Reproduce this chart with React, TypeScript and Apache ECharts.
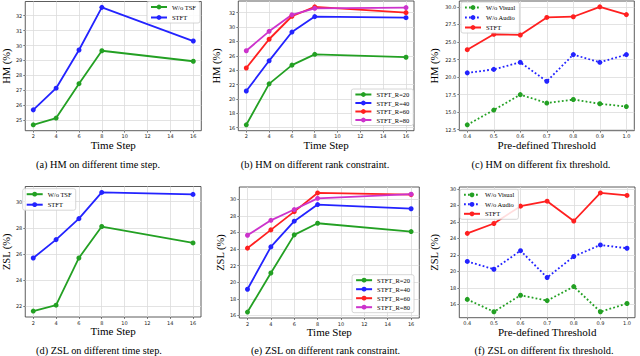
import React, { useEffect, useRef } from "react";
import * as echarts from "echarts";

// ---------- data ----------
const timeSteps = [2, 4, 6, 8, 16];
const thresholds = [0.4, 0.5, 0.6, 0.7, 0.8, 0.9, 1.0];

const timeTickLabels = [2, 4, 6, 8, 10, 12, 14, 16];
const thrTickLabels = [0.4, 0.5, 0.6, 0.7, 0.8, 0.9, 1.0];
const hmTimeYTicks = [25, 26, 27, 28, 29, 30, 31, 32];
const hmRankYTicks = [16, 18, 20, 22, 24, 26, 28, 30, 32];
const hmThrYTicks = [12.5, 15.0, 17.5, 20.0, 22.5, 25.0, 27.5, 30.0];
const zslTimeYTicks = [22, 24, 26, 28, 30];
const zslRankYTicks = [16, 18, 20, 22, 24, 26, 28, 30];
const zslThrYTicks = [16, 18, 20, 22, 24, 26, 28, 30];

// (a) HM vs time step
const hmWoTSF = [24.7, 25.15, 27.45, 29.65, 28.95];
const hmSTFT = [25.7, 27.15, 29.7, 32.55, 30.3];
// (b) HM vs rank constraint
const hmR20 = [16.4, 22.1, 24.7, 26.2, 25.8];
const hmR40 = [21.1, 25.3, 29.3, 31.45, 31.3];
const hmR60 = [24.3, 28.3, 31.5, 32.8, 32.0];
const hmR80 = [26.7, 29.4, 31.7, 32.6, 32.7];
// (c) HM vs threshold
const hmWoVisual = [13.2, 15.3, 17.5, 16.3, 16.8, 16.2, 15.8];
const hmWoAudio = [20.6, 21.1, 22.1, 19.4, 23.2, 22.1, 23.2];
const hmSTFTThr = [23.9, 26.1, 26.0, 28.5, 28.6, 30.0, 28.9];
// (d) ZSL vs time step
const zslWoTSF = [21.65, 22.1, 25.7, 28.1, 26.85];
const zslSTFT = [25.7, 27.1, 28.7, 30.7, 30.55];
// (e) ZSL vs rank constraint
const zslR20 = [16.4, 21.1, 25.7, 27.1, 26.1];
const zslR40 = [19.15, 24.25, 27.35, 29.35, 28.85];
const zslR60 = [24.1, 26.3, 28.5, 30.75, 30.55];
const zslR80 = [25.65, 27.45, 28.75, 30.1, 30.6];
// (f) ZSL vs threshold
const zslWoVisual = [16.6, 15.1, 17.1, 16.45, 18.15, 15.1, 16.1];
const zslWoAudio = [21.2, 20.25, 22.5, 19.25, 21.8, 23.2, 22.8];
const zslSTFTThr = [24.6, 25.8, 27.9, 28.5, 26.1, 29.5, 29.2];

const captions = [
  "(a) HM on different time step.",
  "(b) HM on different rank constraint.",
  "(c) HM on different fix threshold.",
  "(d) ZSL on different time step.",
  "(e) ZSL on different rank constraint.",
  "(f) ZSL on different fix threshold.",
];

// ---------- styling ----------
const GREEN = "#23a023";
const BLUE = "#2323ff";
const RED = "#ff2020";
const MAGENTA = "#cc33cc";
const SERIF = "'Liberation Serif', 'Times New Roman', serif";
const SANS = "'DejaVu Sans', sans-serif";

type SeriesDef = { name: string; ys: number[]; color: string; dotted?: boolean };
type PanelDef = {
  l: number; t: number; r: number; b: number;
  xs: number[]; xTicks: number[]; yTicks: number[];
  xName: string; yName: string; yGap: number; yFmt: (v: number) => string;
  series: SeriesDef[];
  legend: Record<string, number>;
  legendGap: number;
  capX: number; capY: number;
};

const panels: PanelDef[] = [
  {
    l: 20.7, t: 1.5, r: 201.3, b: 130.7, xs: timeSteps, xTicks: timeTickLabels, yTicks: hmTimeYTicks,
    xName: "Time Step", yName: "HM (%)", yGap: 9, yFmt: (v) => String(v),
    series: [
      { name: "W/o TSF", ys: hmWoTSF, color: GREEN },
      { name: "STFT", ys: hmSTFT, color: BLUE },
    ],
    legend: { right: 440, top: 1.5 }, legendGap: 3.5, capX: 98, capY: 164,
  },
  {
    l: 238.3, t: 1, r: 414, b: 130.7, xs: timeSteps, xTicks: timeTickLabels, yTicks: hmRankYTicks,
    xName: "Time Step", yName: "HM (%)", yGap: 16, yFmt: (v) => String(v),
    series: [
      { name: "STFT_R=20", ys: hmR20, color: GREEN },
      { name: "STFT_R=40", ys: hmR40, color: BLUE },
      { name: "STFT_R=60", ys: hmR60, color: RED },
      { name: "STFT_R=80", ys: hmR80, color: MAGENTA },
    ],
    legend: { right: 226.7, top: 89 }, legendGap: 1.5, capX: 315, capY: 164,
  },
  {
    l: 459.3, t: 1, r: 634.3, b: 130.7, xs: thresholds, xTicks: thrTickLabels, yTicks: hmThrYTicks,
    xName: "Pre-defined Threshold", yName: "HM (%)", yGap: 19, yFmt: (v) => v.toFixed(1),
    series: [
      { name: "W/o Visual", ys: hmWoVisual, color: GREEN, dotted: true },
      { name: "W/o Audio", ys: hmWoAudio, color: BLUE, dotted: true },
      { name: "STFT", ys: hmSTFTThr, color: RED },
    ],
    legend: { left: 461, top: 2 }, legendGap: 3, capX: 541, capY: 164,
  },
  {
    l: 20.7, t: 186.5, r: 201, b: 317, xs: timeSteps, xTicks: timeTickLabels, yTicks: zslTimeYTicks,
    xName: "Time Step", yName: "ZSL (%)", yGap: 9, yFmt: (v) => String(v),
    series: [
      { name: "W/o TSF", ys: zslWoTSF, color: GREEN },
      { name: "STFT", ys: zslSTFT, color: BLUE },
    ],
    legend: { left: 22.7, top: 188.7 }, legendGap: 3.5, capX: 99, capY: 350,
  },
  {
    l: 239.3, t: 187, r: 419.3, b: 318, xs: timeSteps, xTicks: timeTickLabels, yTicks: zslRankYTicks,
    xName: "Time Step", yName: "ZSL (%)", yGap: 12, yFmt: (v) => String(v),
    series: [
      { name: "STFT_R=20", ys: zslR20, color: GREEN },
      { name: "STFT_R=40", ys: zslR40, color: BLUE },
      { name: "STFT_R=60", ys: zslR60, color: RED },
      { name: "STFT_R=80", ys: zslR80, color: MAGENTA },
    ],
    legend: { right: 226, top: 274.7 }, legendGap: 2, capX: 325.5, capY: 350,
  },
  {
    l: 459.3, t: 187, r: 635, b: 317.7, xs: thresholds, xTicks: thrTickLabels, yTicks: zslThrYTicks,
    xName: "Pre-defined Threshold", yName: "ZSL (%)", yGap: 19, yFmt: (v) => String(v),
    series: [
      { name: "W/o Visual", ys: zslWoVisual, color: GREEN, dotted: true },
      { name: "W/o Audio", ys: zslWoAudio, color: BLUE, dotted: true },
      { name: "STFT", ys: zslSTFTThr, color: RED },
    ],
    legend: { left: 460, top: 189.3 }, legendGap: 2.5, capX: 544, capY: 350,
  },
];

function padded(vals: number[]): [number, number] {
  const lo = Math.min(...vals);
  const hi = Math.max(...vals);
  const m = (hi - lo) * 0.05;
  return [lo - m, hi + m];
}

function buildOption() {
  const grid: any[] = [];
  const xAxis: any[] = [];
  const yAxis: any[] = [];
  const series: any[] = [];
  const legend: any[] = [];
  const graphic: any[] = [];

  panels.forEach((p, i) => {
    grid.push({
      left: p.l, top: p.t, width: p.r - p.l, height: p.b - p.t,
      show: true, borderColor: "#333", borderWidth: 0.8, backgroundColor: "transparent",
      containLabel: false,
    });
    const [xmin, xmax] = padded(p.xs);
    const [ymin, ymax] = padded(p.series.flatMap((s) => s.ys));
    xAxis.push({
      type: "value", gridIndex: i, min: xmin, max: xmax,
      axisLine: { show: false },
      axisTick: { show: true, length: 2, lineStyle: { color: "#333", width: 0.6 }, customValues: p.xTicks },
      axisLabel: {
        customValues: p.xTicks, fontSize: 5, margin: 3, color: "#222", fontFamily: SANS,
        formatter: (v: number) => (p.xs === thresholds ? v.toFixed(1) : String(v)),
      },
      splitLine: { show: true, lineStyle: { color: "#dcdcdc", width: 0.8 } },
      name: p.xName, nameLocation: "middle", nameGap: 7.5,
      nameTextStyle: { fontFamily: SERIF, fontSize: 11, color: "#000", fontWeight: "normal" },
    });
    yAxis.push({
      type: "value", gridIndex: i, min: ymin, max: ymax,
      axisLine: { show: false },
      axisTick: { show: true, length: 2, lineStyle: { color: "#333", width: 0.6 }, customValues: p.yTicks },
      axisLabel: {
        customValues: p.yTicks, fontSize: 5, margin: 3, color: "#222", fontFamily: SANS,
        formatter: (v: number) => p.yFmt(v),
      },
      splitLine: { show: true, lineStyle: { color: "#dcdcdc", width: 0.8 } },
      name: p.yName, nameLocation: "middle", nameGap: p.yGap,
      nameTextStyle: { fontFamily: SERIF, fontSize: 10.5, color: "#000", fontWeight: "normal" },
    });
    const names: string[] = [];
    p.series.forEach((s) => {
      const nm = `${i}::${s.name}`;
      names.push(nm);
      series.push({
        type: "line", name: nm, xAxisIndex: i, yAxisIndex: i,
        data: p.xs.map((x, k) => [x, s.ys[k]]),
        symbol: "circle", symbolSize: 5, showSymbol: true,
        itemStyle: { color: s.color },
        lineStyle: { color: s.color, width: 1.8, type: s.dotted ? [1.8, 2.2] : "solid" },
        emphasis: { disabled: true }, silent: true, clip: false,
      });
    });
    legend.push({
      ...p.legend,
      orient: "vertical", data: names, selectedMode: false,
      itemWidth: 16, itemHeight: 6, itemGap: p.legendGap,
      padding: [2, 4, 2, 3],
      backgroundColor: "rgba(255,255,255,0.85)", borderColor: "#cccccc", borderWidth: 0.8, borderRadius: 2,
      textStyle: { fontFamily: SERIF, fontSize: 6.5, color: "#000", padding: [0, 0, 0, 0] },
      formatter: (n: string) => n.split("::")[1],
    });
    graphic.push({
      type: "text", x: p.capX, y: p.capY,
      style: {
        text: captions[i], fontFamily: SERIF, fontSize: 10.3, fill: "#000", fontWeight: "normal",
        textAlign: "center", textVerticalAlign: "middle",
      },
    });
  });

  return {
    animation: false,
    backgroundColor: "#ffffff",
    grid, xAxis, yAxis, series, legend, graphic,
    tooltip: { show: false },
  };
}

export default function App() {
  const ref = useRef<HTMLDivElement>(null);
  useEffect(() => {
    document.body.style.margin = "0";
    document.body.style.padding = "0";
    if (!ref.current) return;
    const chart = echarts.init(ref.current, undefined, { renderer: "svg" });
    chart.setOption(buildOption() as any);
    return () => chart.dispose();
  }, []);
  return (
    <div
      ref={ref}
      style={{ width: 640, height: 356, background: "#fff", margin: 0 }}
    />
  );
}
